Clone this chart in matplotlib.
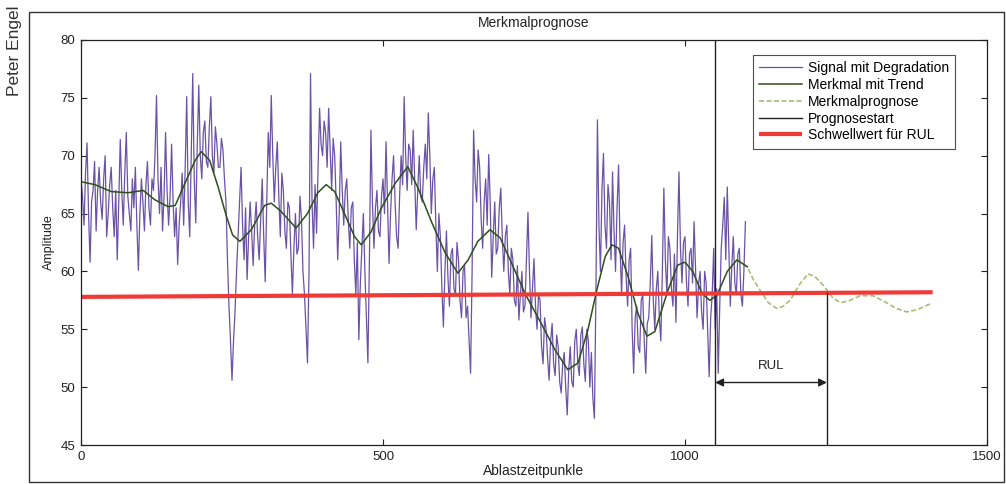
import numpy as np
import matplotlib
matplotlib.use("Agg")
import matplotlib.pyplot as plt
from matplotlib.patches import Rectangle

plt.rcParams['font.family'] = ['Liberation Sans', 'DejaVu Sans']

# ---- data ----
signal_step = 2.5
signal_values = [
    # 0 - 47.5
    68, 66.5, 64, 68.5, 71.1, 65, 60.8, 66, 67, 69.5, 63.5, 67, 69, 66, 64.5, 68, 70, 63, 65, 67.5,
    # 50 - 97.5
    69, 65.5, 63, 67, 61, 66, 71.4, 67, 64, 68.5, 72, 66.5, 65, 63.5, 68, 65.5, 69, 64, 60.1, 65,
    # 100 - 147.5
    68, 66, 63.5, 67.5, 69.5, 65.5, 64, 68, 67, 70, 75.2, 68, 65, 69, 63.5, 66.5, 72, 67, 64, 66.5,
    # 150 - 197.5
    71, 66, 63, 65.5, 60.6, 64, 66, 68.5, 64, 69, 75.1, 66, 63, 70, 77.1, 68, 64.2, 71, 76.1, 70,
    # 200 - 247.5
    68, 72, 73, 69.5, 69, 72.5, 75.1, 70, 68.5, 72.5, 71, 69, 69, 71.5, 70.5, 68, 66, 61, 57, 54,
    # 250 - 297.5
    50.6, 54, 56.5, 60, 63, 66, 69, 64, 61, 65.5, 59.3, 63, 66, 63.5, 60.5, 64, 66, 63, 61, 64.5,
    # 300 - 347.5
    68, 63, 59.1, 66, 72, 69, 75.2, 70, 66, 69, 71.2, 66.5, 63, 68.5, 67, 63.5, 62, 66, 65.5, 61.5,
    # 350 - 397.5
    58.1, 62, 65, 61.5, 62, 66.5, 64.5, 60, 58, 55, 52.1, 60, 77.1, 66, 62, 67.5, 63.3, 69, 74.1, 71,
    # 400 - 447.5
    70, 73, 72, 69, 74.1, 70.5, 67, 71.5, 70, 66, 61, 65, 71.2, 67, 64, 67, 68, 64.5, 62, 65.5,
    # 450 - 497.5
    66, 61, 58, 62.5, 54.1, 59, 62, 65, 60, 56, 52.1, 61, 72.2, 66, 62, 65.5, 67, 63.5, 63, 66.5,
    # 500 - 547.5
    68, 65, 71.2, 66, 60.7, 65, 68, 70, 66, 63, 62, 66.5, 70, 67.5, 75.1, 70, 67, 71, 70.5, 67.5,
    # 550 - 597.5
    72.2, 68, 63.6, 67, 70, 66.5, 66, 69, 71, 68, 73.7, 70, 65, 68, 69, 64, 60, 65, 63, 58.5,
    # 600 - 647.5
    55.2, 60, 63.5, 59.5, 57, 61.5, 62, 58.5, 58, 62.5, 61, 57.5, 56, 60, 60.5, 56, 57, 54, 51.2, 60,
    # 650 - 697.5
    72.2, 68, 66, 70.5, 69, 64.5, 62, 66, 68, 64, 70.1, 66, 59.5, 63, 66, 61.5, 62, 65.5, 67.2, 63,
    # 700 - 747.5
    60, 63, 64, 60, 58, 62, 61, 57.5, 57, 60.5, 55.8, 58, 60, 56.5, 57, 61, 65.1, 60, 56, 58.5,
    # 750 - 797.5
    61.1, 57, 55, 58, 57.5, 53.5, 52, 56, 55, 52.5, 50.6, 54, 55.5, 52, 51, 54.5, 53.5, 50.5, 49.5, 52,
    # 800 - 847.5
    53, 50, 47.6, 51.5, 53.5, 50.5, 50, 54, 55, 52, 51, 54.5, 55.2, 52, 50.5, 55, 54, 50, 53, 49,
    # 850 - 897.5
    47.3, 58, 73.1, 64, 60, 67, 70.2, 64, 62, 67.5, 66, 61, 68.6, 63.5, 60, 65.5, 69.2, 62, 58, 62.5,
    # 900 - 947.5
    64, 59.5, 57, 61, 62, 55, 51.2, 56, 57, 53.5, 53, 57.5, 58, 54, 51.2, 55.5, 56, 59, 63.1, 57.5,
    # 950 - 997.5
    55, 58.5, 60, 56, 54, 60, 67.2, 61, 58, 63, 62, 58.5, 57, 61.5, 55.6, 63, 68.6, 62, 59, 62.5,
    # 1000 - 1047.5
    63, 59, 57, 61.5, 62, 59, 64.3, 60, 56, 59, 60, 56.5, 55, 60, 59, 55, 50.9, 56, 58, 62,
    # 1050 - 1100
    55, 58.5, 51.2, 57, 62, 64, 66.4, 61, 67.3, 62, 57, 60.5, 63, 59, 58, 61.5, 62, 58, 57, 60, 64.3,
]

trend_x = [0, 23, 50, 78, 103, 122, 144, 156, 172, 189, 199, 213, 227, 240,
           251, 263, 282, 304, 315, 331, 356, 375, 392, 406, 420, 437, 453,
           464, 480, 497, 520, 541, 558, 581, 603, 624, 641, 657, 677, 694,
           713, 735, 763, 785, 806, 823, 839, 854, 868, 879, 890, 906, 922,
           937, 950, 972, 988, 1000, 1013, 1028, 1041, 1053, 1070, 1086, 1103]
trend_y = [67.75, 67.5, 66.9, 66.8, 67.0, 66.2, 65.6, 65.7, 67.6, 69.6, 70.35,
           69.6, 67.3, 64.9, 63.15, 62.6, 63.6, 65.7, 65.9, 65.2, 63.75, 65.0,
           66.8, 67.5, 66.9, 64.9, 63.0, 62.3, 63.4, 65.45, 67.6, 69.05, 67.2,
           64.2, 61.6, 59.85, 61.0, 62.6, 63.6, 62.9, 60.7, 58.1, 55.4, 53.2,
           51.5, 52.1, 54.9, 58.4, 61.3, 62.3, 62.0, 59.5, 56.4, 54.4, 54.8,
           58.4, 60.55, 60.8, 60.0, 58.1, 57.5, 57.95, 60.0, 61.0, 60.4]

forecast_x = [1086, 1103, 1113, 1124, 1138, 1152, 1163, 1174, 1190, 1204,
              1216, 1229, 1245, 1258, 1273, 1290, 1311, 1330, 1350, 1367,
              1385, 1406]
forecast_y = [61.0, 60.4, 59.3, 58.4, 57.3, 56.8, 57.0, 57.5, 58.9, 59.8,
              59.5, 58.8, 57.7, 57.3, 57.5, 57.9, 57.9, 57.4, 56.8, 56.5,
              56.7, 57.2]

threshold_x = [0, 1410]
threshold_y = [57.8, 58.2]

prognose_start = 1050
rul_end = 1235
rul_arrow_y = 50.4

x_ticks = [0, 500, 1000, 1500]
y_ticks = [45, 50, 55, 60, 65, 70, 75, 80]

# ---- figure ----
fig = plt.figure(figsize=(10.06, 4.84), dpi=100)
fig.patch.set_facecolor('white')
ax = fig.add_axes([81 / 1006, 1 - 445 / 484, 906 / 1006, 405 / 484])

signal_x = np.arange(len(signal_values)) * signal_step
l_sig, = ax.plot(signal_x, signal_values, color='#6a52a8', lw=0.9,
                 label='Signal mit Degradation')
l_fc, = ax.plot(forecast_x, forecast_y, color='#a6bf72', lw=1.2,
                linestyle=(0, (3, 1.5)), label='Merkmalprognose')
l_tr, = ax.plot(trend_x, trend_y, color='#2c4f1c', lw=1.1,
                label='Merkmal mit Trend')
l_ps, = ax.plot([prognose_start, prognose_start], [45, 80], color='#222222',
                lw=1.0, label='Prognosestart')
l_th, = ax.plot(threshold_x, threshold_y, color='#f03a36', lw=3.0,
                label='Schwellwert für RUL', solid_capstyle='butt')

thr_at_end = np.interp(rul_end, threshold_x, threshold_y)
ax.plot([rul_end, rul_end], [45, thr_at_end], color='#222222', lw=1.0)
ax.annotate('', xy=(rul_end, rul_arrow_y), xytext=(prognose_start, rul_arrow_y),
            arrowprops=dict(arrowstyle='<|-|>', color='#222222', lw=1.0,
                            mutation_scale=12, shrinkA=0, shrinkB=0))
ax.text((prognose_start + rul_end) / 2, rul_arrow_y + 0.9, 'RUL',
        ha='center', va='bottom', fontsize=9.5, color='#222222')

ax.set_xlim(0, 1500)
ax.set_ylim(45, 80)
ax.set_xticks(x_ticks)
ax.set_yticks(y_ticks)
ax.tick_params(direction='in', top=True, right=True, length=4, width=0.8,
               labelsize=9.5, colors='#222222', pad=4)
for s in ax.spines.values():
    s.set_linewidth(0.9)
    s.set_color('#222222')

ax.set_title('Merkmalprognose', fontsize=10, pad=9, color='#222222')
ax.set_xlabel('Ablastzeitpunkle', fontsize=10, labelpad=1, color='#222222')
ax.set_ylabel('Amplitude', fontsize=9, labelpad=4, color='#222222')

leg = ax.legend(handles=[l_sig, l_tr, l_fc, l_ps, l_th], loc='upper right',
                bbox_to_anchor=((955 - 81) / 906, (445 - 55) / 405),
                borderaxespad=0, fontsize=10, frameon=True, fancybox=False,
                handlelength=3.1, handletextpad=0.4, labelspacing=0.2,
                borderpad=0.45)
leg.get_frame().set_edgecolor('#222222')
leg.get_frame().set_linewidth(0.8)

# outer frame and author tag
fig.patches.append(Rectangle((29 / 1006, 2 / 484), 975 / 1006, 470 / 484,
                             transform=fig.transFigure, fill=False,
                             edgecolor='#333333', lw=1.0))
fig.text(15 / 1006, 1 - 51 / 484, 'Peter Engel', rotation=90, ha='center',
         va='center', fontsize=12.5, color='#333333')

fig.savefig('out.png', dpi=100)
